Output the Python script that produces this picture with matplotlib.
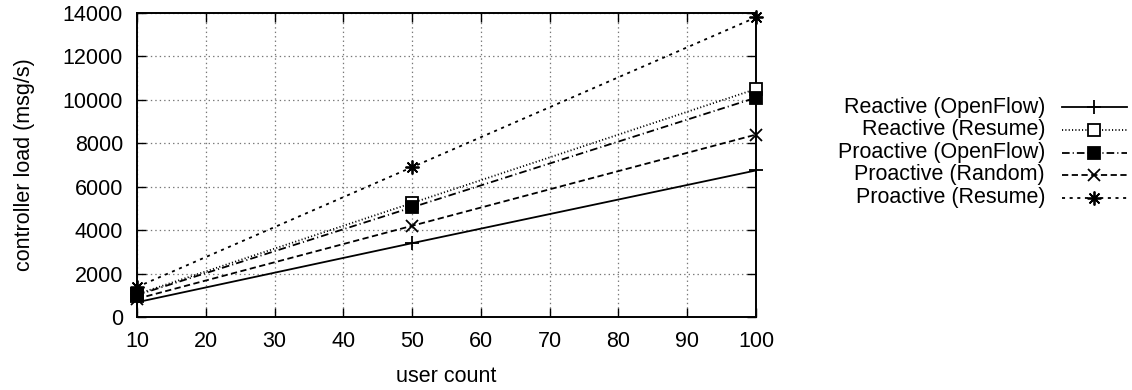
import matplotlib
matplotlib.use("Agg")
import matplotlib.pyplot as plt
from matplotlib.lines import Line2D

plt.rcParams['font.family'] = ['Liberation Sans', 'DejaVu Sans']
plt.rcParams['lines.scale_dashes'] = False

# data
user_count = [10, 50, 100]
reactive_openflow = [680, 3400, 6750]
reactive_resume = [1050, 5250, 10500]
proactive_openflow = [1010, 5050, 10100]
proactive_random = [840, 4200, 8400]
proactive_resume = [1380, 6900, 13800]

labels = ["Reactive (OpenFlow)", "Reactive (Resume)", "Proactive (OpenFlow)",
          "Proactive (Random)", "Proactive (Resume)"]
series = [reactive_openflow, reactive_resume, proactive_openflow,
          proactive_random, proactive_resume]

x_ticks = list(range(10, 101, 10))
y_ticks = list(range(0, 14001, 2000))

FS = 15.5
lw = 1.3
styles = [
    dict(linestyle='-', marker='+', ms=10, mfc='black', mew=lw),
    dict(linestyle=(0, (0.8, 1.6)), marker='s', ms=8, mfc='white', mew=lw),
    dict(linestyle=(0, (5.5, 2.2, 0.8, 2.2)), marker='s', ms=8, mfc='black', mew=lw),
    dict(linestyle=(0, (4.5, 2.5)), marker='x', ms=8, mfc='black', mew=lw),
    dict(linestyle=(0, (2.2, 3.3)), marker=(8, 2, 0), ms=10, mfc='black', mew=lw),
]

W, H = 1132, 390
fig = plt.figure(figsize=(W / 100, H / 100), dpi=100)
ax = fig.add_axes([137 / W, 1 - 317 / H, (756 - 137) / W, (317 - 13) / H])

for vals, st in zip(series, styles):
    ax.plot(user_count, vals, color='black', lw=lw, mec='black', clip_on=False,
            zorder=3, **st)

ax.set_xlim(10, 100)
ax.set_ylim(0, 14000)
ax.set_xticks(x_ticks)
ax.set_yticks(y_ticks)
ax.grid(True, color='#777777', linestyle=(0, (1, 2.2)), linewidth=0.9)
ax.tick_params(direction='in', top=True, right=True, length=6.5, width=1.0,
               labelsize=FS, pad=10)
for sp in ax.spines.values():
    sp.set_linewidth(1.4)

ax.set_xlabel("user count", fontsize=FS, labelpad=10)
ax.set_ylabel("controller load (msg/s)", fontsize=FS, labelpad=20)

# key drawn to the right of the plot: labels right-aligned, samples after
rows = [107, 130, 153, 175, 198]
for lab, st, yy in zip(labels, styles, rows):
    fy = 1 - yy / H
    fig.text(1045 / W, fy, lab, ha='right', va='center', fontsize=FS)
    line_st = {k: v for k, v in st.items() if k == 'linestyle'}
    fig.add_artist(Line2D([1062 / W, 1127 / W], [fy, fy], color='black', lw=lw,
                          transform=fig.transFigure, **line_st))
    mk = {k: v for k, v in st.items() if k != 'linestyle'}
    fig.add_artist(Line2D([1094 / W], [fy], color='black', linestyle='none',
                          mec='black', transform=fig.transFigure, **mk))

fig.savefig("out.png", dpi=100)
